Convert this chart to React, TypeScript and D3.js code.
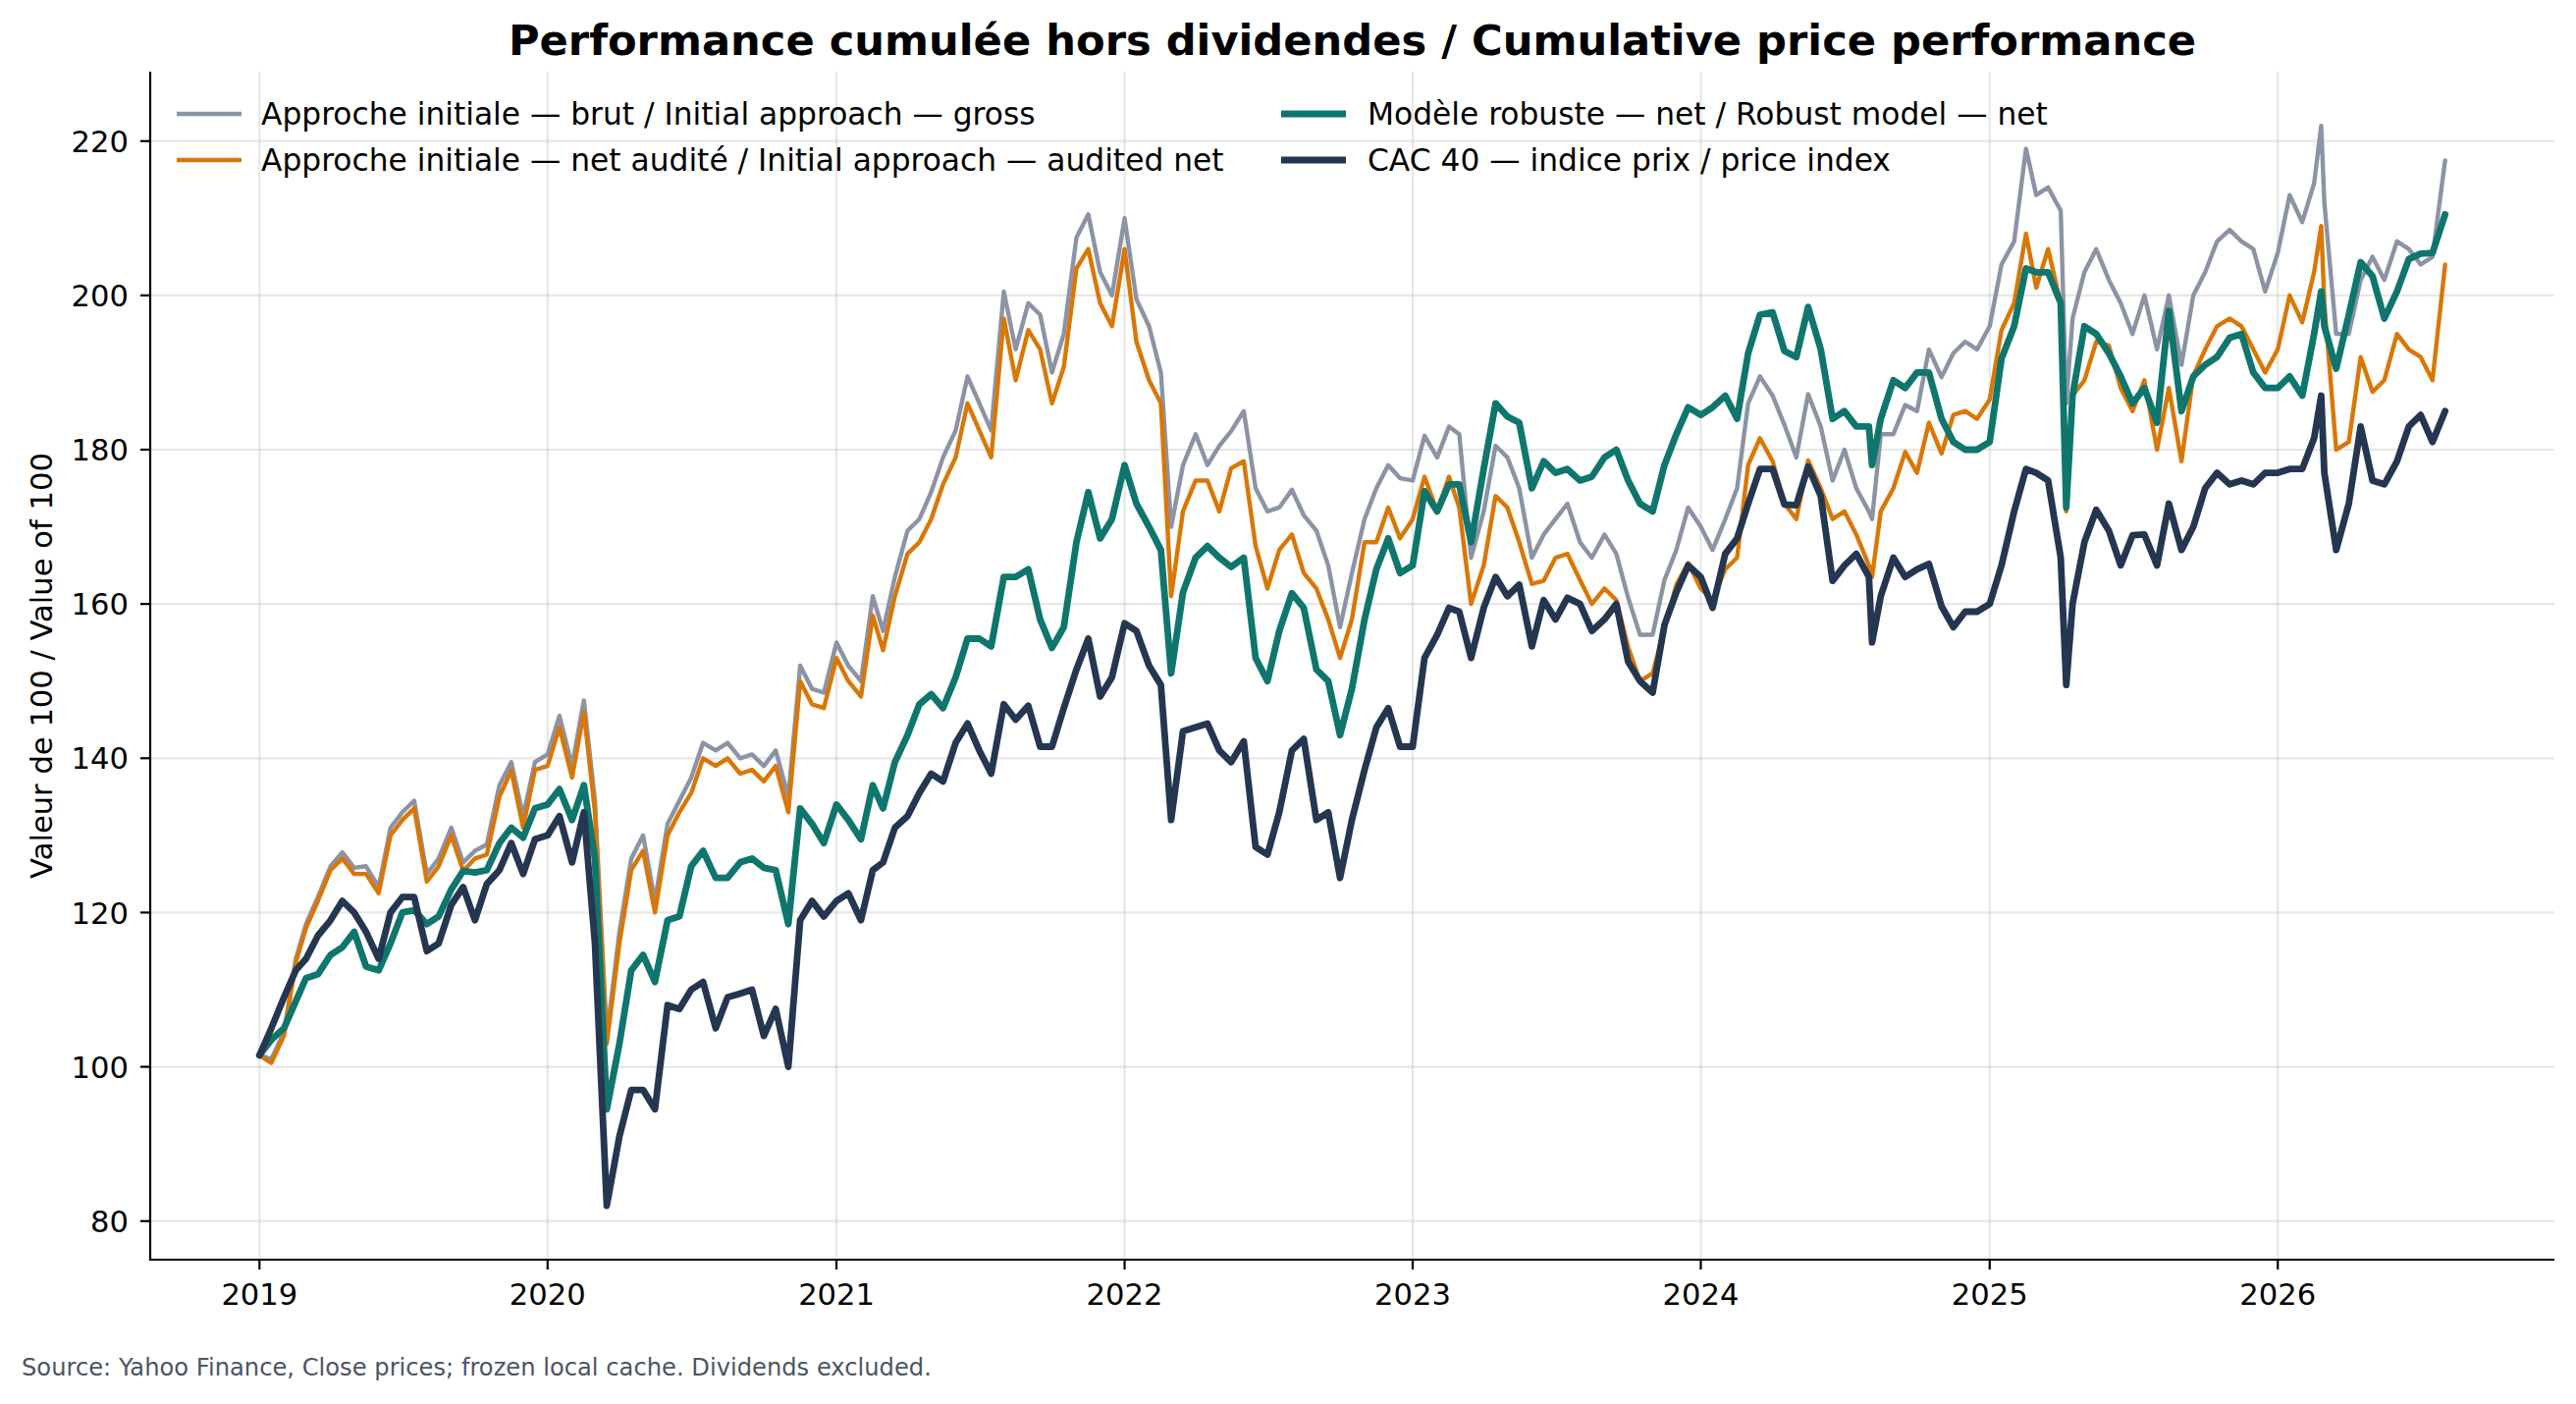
import React, { useEffect } from "react";
import * as d3 from "d3";

// semi-monthly readings (1st and 16th of each month), 2019-01-01 .. 2026-08-01
const grossInitial = [
  101.5, 101, 104.5, 114, 118.5, 122, 126, 127.8, 125.8, 126, 123.3, 131, 133, 134.5, 125, 127, 131, 126.5, 128, 128.8, 136.5, 139.5, 132.5, 139.5,
  140.5, 145.5, 139, 147.5, 134.5, 104, 117.5, 127, 130, 121.5, 131.5, 134.5, 137.5, 142, 141, 142, 140, 140.5, 139, 141, 135, 152, 149, 148.5,
  155, 152, 150, 161, 156.5, 163.5, 169.5, 171, 174.5, 179, 182.5, 189.5, 186, 182.5, 200.5, 193, 199, 197.5, 190, 195, 207.5, 210.5, 203, 200,
  210, 199.5, 196, 190, 170, 178, 182, 178, 180.5, 182.4, 185, 175, 172, 172.5, 174.8, 171.5, 169.5, 165, 157, 164, 171, 175, 178, 176.3,
  176, 181.8, 179, 183, 182, 166, 172, 180.5, 179, 175, 166, 169, 171, 173, 168, 166, 169, 166.5, 160.8, 156, 156, 163.1, 167, 172.5,
  170, 167, 171, 175, 186, 189.5, 187, 183.2, 179, 187.2, 183, 176, 180, 175, 172, 182, 182, 185.8, 185, 193, 189.4, 192.5, 194, 193,
  196, 204, 207, 219, 213, 214, 211, 197, 203, 206, 202, 199, 195, 200, 193, 200, 191, 200, 203, 207, 208.5, 207, 206, 200.5,
  205.5, 213, 209.5, 214.5, 212, 195, 195, 202, 205, 202, 207, 206, 204, 205, 217.5,
];

const netInitial = [
  101.5, 100.5, 104, 113.5, 118, 121.5, 125.5, 127, 125, 125, 122.5, 130, 132, 133.5, 124, 126, 130, 125.4, 127, 127.5, 135, 138.4, 131, 138.5,
  139, 144, 137.5, 146, 133, 103, 116, 125.5, 128, 120, 130, 133, 135.5, 140, 139, 140, 138, 138.5, 137, 139, 133, 150, 147, 146.5,
  153, 150, 148, 158.5, 154, 161, 166.5, 168, 171, 175.5, 179, 186, 182.5, 179, 197, 189, 195.5, 193, 186, 190.7, 203.5, 206, 199, 196,
  206, 194, 189, 186, 161, 172, 176, 176, 172, 177.6, 178.5, 167.5, 162, 167, 169, 164, 162, 158, 153, 158, 168, 168, 172.5, 168.5,
  171, 176.5, 172, 176.5, 172.5, 160, 165, 174, 172.5, 168, 162.6, 163, 166, 166.5, 163.1, 160, 162, 160.5, 154.4, 150, 151, 156.8, 162.5, 165.3,
  162, 160.5, 164.5, 166, 178, 181.5, 178.5, 173, 171, 178.6, 175, 171, 172, 169, 165, 172, 175, 179.7, 177, 183.5, 179.5, 184.5, 185, 184,
  186.5, 195.5, 199, 208, 201, 206, 199, 187, 189, 194, 193.5, 188, 185, 189, 180, 188, 178.5, 189.6, 193, 196, 197, 196, 193, 190,
  193, 200, 196.5, 203, 199, 180, 181, 192, 187.5, 189, 195, 193, 192, 189, 204,
];

const robustNet = [
  101.5, 103.5, 105, 108.5, 111.5, 112, 114.5, 115.5, 117.5, 113, 112.5, 116, 120, 120.3, 118.5, 119.5, 123, 125.4, 125.2, 125.5, 129, 131, 129.7, 133.5,
  134, 136, 132, 136.5, 127, 94.5, 103, 112.5, 114.5, 111, 119, 119.5, 126, 128, 124.5, 124.5, 126.5, 127, 125.8, 125.5, 118.5, 133.5, 131.5, 129,
  134, 132, 129.5, 136.5, 133.5, 139.5, 143, 147, 148.3, 146.5, 150.5, 155.5, 155.5, 154.5, 163.5, 163.5, 164.5, 158, 154.3, 157, 168, 174.5, 168.5, 171,
  178, 173, 170, 167, 151, 161.5, 166, 167.5, 166, 164.8, 166, 153, 150, 156.5, 161.4, 159.5, 151.5, 150, 143, 149, 158, 164.5, 168.5, 164,
  165, 174.6, 172, 175.5, 175.5, 168, 177.5, 186, 184.3, 183.5, 175, 178.5, 177, 177.5, 176, 176.5, 179, 180, 176, 173, 172, 178, 182, 185.5,
  184.5, 185.5, 187, 184, 192.5, 197.5, 197.8, 192.8, 192, 198.5, 193, 184, 185, 183, 183, 184, 189, 188, 190, 190, 184, 181, 180, 180,
  181, 191.8, 196, 203.5, 203, 203, 199, 187, 196, 195, 192.5, 189.5, 186, 188, 183.5, 198, 185, 189.5, 191, 192, 194.5, 195, 190, 188,
  188, 189.5, 187, 195, 196, 190.5, 197.5, 204.3, 202.5, 197, 200.5, 204.7, 205.4, 205.5, 210.5,
];

const cac40 = [
  101.5, 105, 109, 112.5, 114, 117, 119, 121.5, 120, 117.5, 114, 120, 122, 122, 115, 116, 121, 123.3, 119, 123.7, 125.5, 129, 125, 129.5,
  130, 132.5, 126.5, 133, 116, 82, 91, 97, 97, 94.5, 108, 107.5, 110, 111, 105, 109, 109.5, 110, 104, 107.5, 100, 119, 121.5, 119.5,
  121.5, 122.5, 119, 125.5, 126.5, 131, 132.5, 135.5, 138, 137, 142, 144.5, 141, 138, 147, 145, 146.8, 141.5, 141.5, 146.5, 151.5, 155.5, 148, 150.5,
  157.5, 156.5, 152, 149.5, 132, 143.5, 144, 144.5, 141, 139.5, 142.2, 128.5, 127.5, 133, 141, 142.5, 132, 133, 124.5, 132, 138.5, 144, 146.5, 141.5,
  141.5, 153, 156, 159.5, 159, 153, 159.5, 163.5, 161, 162.5, 154.5, 160.5, 158, 160.8, 160, 156.5, 158, 160, 152.5, 150, 148.5, 157.3, 161.5, 165,
  163.5, 159.5, 166.5, 168.5, 173, 177.5, 177.5, 172.9, 172.8, 177.8, 174, 163, 165, 166.5, 163.5, 161, 166, 163.5, 164.5, 165.2, 159.7, 157, 159, 159,
  160, 165, 172, 177.5, 177, 176, 166, 160, 168, 172.2, 169.5, 165, 168.9, 169, 165, 173, 167, 170, 175, 177, 175.5, 176, 175.5, 177,
  177, 177.5, 177.5, 181.5, 177, 167, 173, 183, 176, 175.5, 178.5, 183, 184.5, 181, 185,
];

// extra readings at sharp moves between the grid dates
const eventDates = ["2024-08-05", "2025-04-08", "2026-02-25"];
const grossEvents = [171, 186, 222];
const netEvents = [163.5, 172, 209];
const robustEvents = [178, 172.5, 200.5];
const cacEvents = [155, 149.5, 187];

const yTicks = [80, 100, 120, 140, 160, 180, 200, 220];

const seriesInfo = [
  { name: "Approche initiale — brut / Initial approach — gross", values: grossInitial, events: grossEvents, color: "#8b93a5", width: 4.4 },
  { name: "Approche initiale — net audité / Initial approach — audited net", values: netInitial, events: netEvents, color: "#d97706", width: 4.4 },
  { name: "Modèle robuste — net / Robust model — net", values: robustNet, events: robustEvents, color: "#0f766e", width: 6.8 },
  { name: "CAC 40 — indice prix / price index", values: cac40, events: cacEvents, color: "#243650", width: 6.8 },
];

const W = 2624;
const H = 1430;
const left = 153, right = 2602, top = 73, bottom = 1283;
const font = "DejaVu Sans";

const gridDate = (k) =>
  new Date(Date.UTC(2019 + Math.floor(k / 24), Math.floor((k % 24) / 2), k % 2 ? 16 : 1));

export default function App() {
  useEffect(() => {
    document.body.style.margin = "0";
  }, []);

  const series = seriesInfo.map((s) => {
    const pts = s.values.map((v, k) => ({ date: gridDate(k), v }));
    eventDates.forEach((d, i) => pts.push({ date: new Date(d + "T00:00:00Z"), v: s.events[i] }));
    pts.sort((a, b) => a.date - b.date);
    return { ...s, pts };
  });

  const allPts = series.flatMap((s) => s.pts);
  const [t0, t1] = d3.extent(allPts, (d) => d.date);
  const tPad = (t1 - t0) * 0.05;
  const x = d3.scaleUtc().domain([new Date(+t0 - tPad), new Date(+t1 + tPad)]).range([left, right]);
  const [v0, v1] = d3.extent(allPts, (d) => d.v);
  const vPad = (v1 - v0) * 0.05;
  const y = d3.scaleLinear().domain([v0 - vPad, v1 + vPad]).range([bottom, top]);

  const line = d3.line().x((d) => x(d.date)).y((d) => y(d.v));
  const xTicks = x.ticks(d3.utcYear.every(1));

  const legendPos = [
    { hx: 180, tx: 266, cy: 116 },
    { hx: 180, tx: 266, cy: 163 },
    { hx: 1305, tx: 1393, cy: 116 },
    { hx: 1305, tx: 1393, cy: 163 },
  ];

  return (
    <svg width={W} height={H} style={{ display: "block", background: "#fff" }} fontFamily={font}>
      <defs>
        <clipPath id="plot">
          <rect x={left} y={top} width={right - left} height={bottom - top} />
        </clipPath>
      </defs>

      {/* grid */}
      {xTicks.map((t) => (
        <line key={"gx" + t} x1={x(t)} x2={x(t)} y1={top} y2={bottom} stroke="#b0b0b0" strokeOpacity={0.3} strokeWidth={2.2} />
      ))}
      {yTicks.map((v) => (
        <line key={"gy" + v} x1={left} x2={right} y1={y(v)} y2={y(v)} stroke="#b0b0b0" strokeOpacity={0.3} strokeWidth={2.2} />
      ))}

      {/* lines */}
      <g clipPath="url(#plot)">
        {series.map((s) => (
          <path key={s.name} d={line(s.pts)} fill="none" stroke={s.color} strokeWidth={s.width} strokeLinejoin="round" strokeLinecap="round" />
        ))}
      </g>

      {/* spines */}
      <line x1={left} x2={left} y1={top} y2={bottom + 1.1} stroke="#000" strokeWidth={2.2} />
      <line x1={left - 1.1} x2={right} y1={bottom} y2={bottom} stroke="#000" strokeWidth={2.2} />

      {/* x axis */}
      {xTicks.map((t) => (
        <g key={"xt" + t}>
          <line x1={x(t)} x2={x(t)} y1={bottom} y2={bottom + 10} stroke="#000" strokeWidth={2.2} />
          <text x={x(t)} y={1329} textAnchor="middle" fontSize={30.6} fill="#000">
            {d3.utcFormat("%Y")(t)}
          </text>
        </g>
      ))}

      {/* y axis */}
      {yTicks.map((v) => (
        <g key={"yt" + v}>
          <line x1={left - 10} x2={left} y1={y(v)} y2={y(v)} stroke="#000" strokeWidth={2.2} />
          <text x={131} y={y(v) + 11.2} textAnchor="end" fontSize={30.6} fill="#000">
            {v}
          </text>
        </g>
      ))}

      <text transform={`translate(53, ${(top + bottom) / 2}) rotate(-90)`} textAnchor="middle" fontSize={30.6} fill="#000">
        Valeur de 100 / Value of 100
      </text>

      {/* title */}
      <text x={(left + right) / 2} y={56} textAnchor="middle" fontSize={43.2} fontWeight="bold" fill="#000">
        Performance cumulée hors dividendes / Cumulative price performance
      </text>

      {/* legend */}
      {series.map((s, i) => {
        const p = legendPos[i];
        return (
          <g key={"lg" + i}>
            <line x1={p.hx} x2={p.hx + 66} y1={p.cy} y2={p.cy} stroke={s.color} strokeWidth={s.width} />
            <text x={p.tx} y={p.cy + 10.8} fontSize={31.3} fill="#000">
              {s.name}
            </text>
          </g>
        );
      })}

      {/* source */}
      <text x={22} y={1401} fontSize={24.2} fill="#4b5563">
        Source: Yahoo Finance, Close prices; frozen local cache. Dividends excluded.
      </text>
    </svg>
  );
}
